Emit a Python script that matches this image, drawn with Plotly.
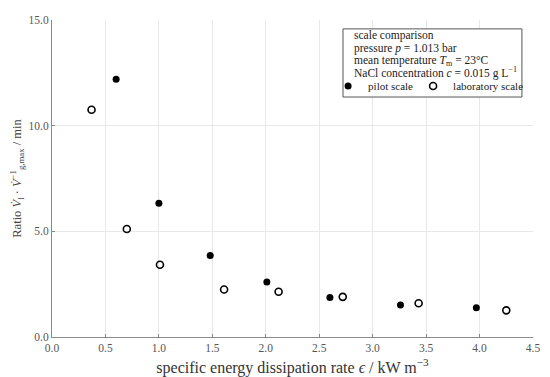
import plotly.graph_objects as go

# data
pilot_x = [0.60, 1.00, 1.48, 2.01, 2.60, 3.26, 3.97]
pilot_y = [12.2, 6.33, 3.86, 2.60, 1.87, 1.51, 1.38]
lab_x = [0.37, 0.70, 1.01, 1.61, 2.12, 2.72, 3.43, 4.25]
lab_y = [10.75, 5.11, 3.42, 2.25, 2.14, 1.90, 1.60, 1.26]
x_ticks = [0.0, 0.5, 1.0, 1.5, 2.0, 2.5, 3.0, 3.5, 4.0, 4.5]
y_ticks = [0.0, 5.0, 10.0, 15.0]
info_lines = [
    "scale comparison",
    "pressure <i>p</i> = 1.013 bar",
    "mean temperature <i>T</i><sub>m</sub> = 23°C",
    "NaCl concentration <i>c</i> = 0.015 g L<sup>−1</sup>",
]

FONT = "Liberation Serif"

fig = go.Figure()
fig.add_trace(go.Scatter(
    x=pilot_x, y=pilot_y, mode="markers", name="pilot scale", legendwidth=40,
    marker=dict(symbol="circle", size=7, color="black", line=dict(width=0)),
))
fig.add_trace(go.Scatter(
    x=lab_x, y=lab_y, mode="markers", name="laboratory scale", legendwidth=72,
    marker=dict(symbol="circle-open", size=7, color="black", line=dict(width=1.6)),
))

axis_common = dict(
    showgrid=True, gridcolor="#e8e8e8", gridwidth=1,
    showline=True, linecolor="#8a8a8a", linewidth=1,
    ticks="inside", ticklen=3, tickcolor="#8a8a8a",
    tickfont=dict(family=FONT, size=11.5, color="#555555"),
    zeroline=False, mirror=False, automargin=False,
)

# info box
box_x0, box_x1, box_y0, box_y1 = 0.605, 0.977, 0.757, 0.972
fig.add_shape(type="rect", xref="paper", yref="paper",
              x0=box_x0, x1=box_x1, y0=box_y0, y1=box_y1,
              line=dict(color="#555555", width=1), fillcolor="white", layer="above")
line_y = [0.951, 0.911, 0.872, 0.835]
for txt, yy in zip(info_lines, line_y):
    fig.add_annotation(text=txt, xref="paper", yref="paper", x=0.624, y=yy,
                       xanchor="left", yanchor="middle", showarrow=False,
                       font=dict(family=FONT, size=11.5, color="#222222"))

fig.update_layout(
    width=542, height=369,
    margin=dict(l=44, r=17, t=12, b=40),
    paper_bgcolor="white", plot_bgcolor="white",
    font=dict(family=FONT, color="#333333"),
    xaxis=dict(
        range=[0, 4.5], tickvals=x_ticks,
        ticktext=[f"{v:.1f}" for v in x_ticks],
        title=dict(text="specific energy dissipation rate <i>ϵ</i> / kW m<sup>−3</sup>",
                   font=dict(family=FONT, size=16, color="#333333")),
        **axis_common,
    ),
    yaxis=dict(
        range=[0, 15], tickvals=y_ticks,
        ticktext=[f"{v:.1f}" for v in y_ticks],
        title=dict(text="Ratio <i>V̇</i><sub>l</sub> · <i>V̇</i><sup>−1</sup><sub>g,max</sub> / min",
                   font=dict(family=FONT, size=12.5, color="#444444")),
        **axis_common,
    ),
    showlegend=True,
    legend=dict(
        x=0.574, y=0.792, xanchor="left", yanchor="middle",
        orientation="h",
        bgcolor="rgba(0,0,0,0)", borderwidth=0,
        font=dict(family=FONT, size=11, color="#222222"),
        itemwidth=30,
        tracegroupgap=0,
    ),
)

fig.write_html("out.html")
